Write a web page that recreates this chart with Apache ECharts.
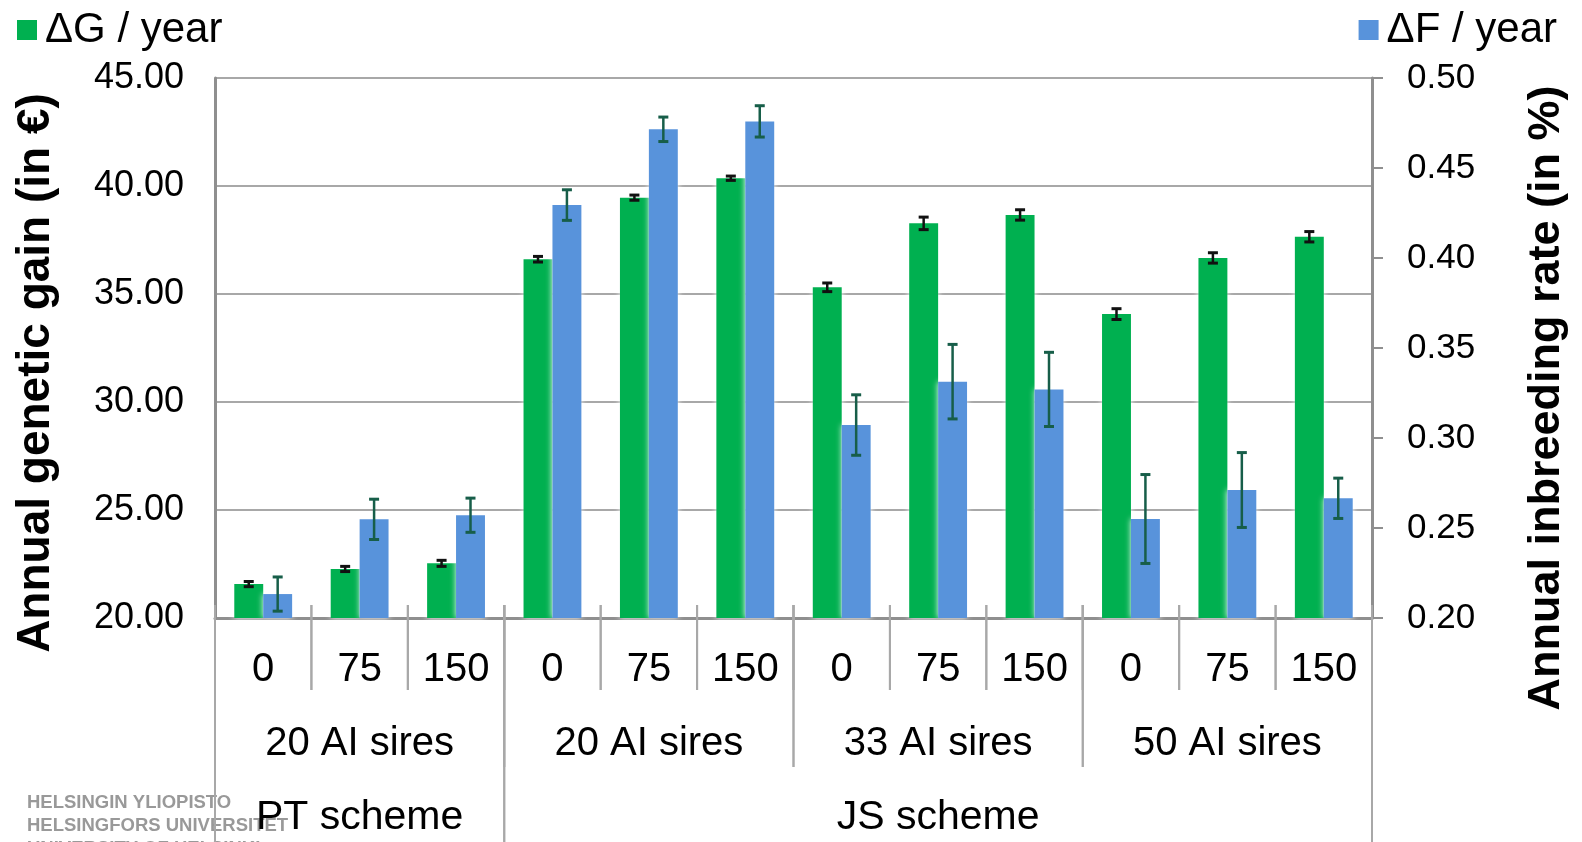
<!DOCTYPE html>
<html>
<head>
<meta charset="utf-8">
<script src="https://cdn.jsdelivr.net/npm/echarts@6/dist/echarts.min.js"></script>
<style>
  html, body { margin: 0; padding: 0; background: #ffffff; }
  #chart { width: 1582px; height: 842px; }
</style>
</head>
<body>
<div id="chart"></div>
<script>
// Genetic gain and inbreeding rate per breeding scheme and number of AI sires
const doseLabels = ['0', '75', '150', '0', '75', '150', '0', '75', '150', '0', '75', '150'];
const gainPerYear = [21.57, 22.27, 22.53, 36.61, 39.46, 40.36, 35.31, 38.27, 38.66, 34.07, 36.67, 37.65];
const gainError = [0.12, 0.12, 0.14, 0.13, 0.12, 0.10, 0.20, 0.29, 0.24, 0.25, 0.24, 0.24];
const inbreedingPerYear = [0.2133, 0.2548, 0.2571, 0.4294, 0.4715, 0.4759, 0.3072, 0.3313, 0.3270, 0.2550, 0.2711, 0.2665];
const inbreedingError = [0.0095, 0.0112, 0.0095, 0.0085, 0.0068, 0.0087, 0.0168, 0.0207, 0.0206, 0.0247, 0.0208, 0.0112];

const sireGroupLabels = ['20 AI sires', '20 AI sires', '33 AI sires', '50 AI sires'];
const sireGroupSpans = [[0, 2], [3, 5], [6, 8], [9, 11]];
const schemeLabels = ['PT scheme', 'JS scheme'];
const schemeSpans = [[0, 2], [3, 11]];

const gainAxisRange = [20, 45, 5];
const rateAxisRange = [0.2, 0.5, 0.05];

const FONT = '"Liberation Sans", Arial, sans-serif';
const GREEN = '#00B050';
const BLUE = '#5893DB';
const AXIS_GRAY = '#8f8f8f';
const GRID_GRAY = '#a8a8a8';

// rows of the hierarchical category axis: [start, baseline, end, level]
const axisRows = [];
const axisRowTexts = [];
doseLabels.forEach((t, i) => { axisRows.push([i, gainAxisRange[0], i, 1]); axisRowTexts.push(t); });
sireGroupSpans.forEach((s, k) => { axisRows.push([s[0], gainAxisRange[0], s[1], 2]); axisRowTexts.push(sireGroupLabels[k]); });
schemeSpans.forEach((s, k) => { axisRows.push([s[0], gainAxisRange[0], s[1], 3]); axisRowTexts.push(schemeLabels[k]); });

const levelDepth = { 1: 72, 2: 149, 3: 240 };
const levelTextOffset = { 1: 52, 2: 126, 3: 200 };
const levelFontSize = { 1: 40, 2: 40, 3: 41 };

function renderAxisRow(params, api) {
  const start = api.value(0);
  const end = api.value(2);
  const level = api.value(3);
  const band = api.size([1, 0])[0];
  const base = api.coord([start, gainAxisRange[0]]);
  const x0 = base[0] - band / 2;
  const x1 = api.coord([end, gainAxisRange[0]])[0] + band / 2;
  const y0 = base[1];
  const depth = levelDepth[level];
  const sep = { stroke: GRID_GRAY, lineWidth: 2 };
  return {
    type: 'group',
    children: [
      { type: 'line', shape: { x1: x0, y1: y0 - 13, x2: x0, y2: y0 + depth }, style: sep },
      { type: 'line', shape: { x1: x1, y1: y0 - 13, x2: x1, y2: y0 + depth }, style: sep },
      {
        type: 'text',
        x: (x0 + x1) / 2,
        y: y0 + levelTextOffset[level],
        style: {
          text: axisRowTexts[params.dataIndex],
          fill: '#000',
          font: levelFontSize[level] + 'px ' + FONT,
          align: 'center', verticalAlign: 'middle',
          textAlign: 'center', textVerticalAlign: 'middle'
        }
      }
    ]
  };
}

function errorBarRenderer(shift, color) {
  return function (params, api) {
    const idx = api.value(0);
    const val = api.value(1);
    const err = api.value(2);
    const band = api.size([1, 0])[0];
    const x = api.coord([idx, val])[0] + shift * band;
    const yTop = api.coord([idx, val + err])[1];
    const yBot = api.coord([idx, val - err])[1];
    const cap = 5;
    const st = { stroke: color, lineWidth: 2.5 };
    const capSt = { stroke: color, lineWidth: 3 };
    return {
      type: 'group',
      children: [
        { type: 'line', shape: { x1: x, y1: yTop, x2: x, y2: yBot }, style: st },
        { type: 'line', shape: { x1: x - cap, y1: yTop, x2: x + cap, y2: yTop }, style: capSt },
        { type: 'line', shape: { x1: x - cap, y1: yBot, x2: x + cap, y2: yBot }, style: capSt }
      ]
    };
  };
}

const chart = echarts.init(document.getElementById('chart'), null, { renderer: 'canvas' });

chart.setOption({
  animation: false,
  textStyle: { fontFamily: FONT },
  legend: [
    {
      data: ['ΔG / year'], left: 12, top: 4, icon: 'rect', itemWidth: 20, itemHeight: 20,
      itemGap: 6, textStyle: { fontSize: 42, color: '#000', fontFamily: FONT, padding: [0, 0, 0, 3] }
    },
    {
      data: ['ΔF / year'], right: 20, top: 4, icon: 'rect', itemWidth: 20, itemHeight: 20,
      itemGap: 6, textStyle: { fontSize: 42, color: '#000', fontFamily: FONT, padding: [0, 0, 0, 3] }
    }
  ],
  grid: { left: 215, right: 210, top: 78, bottom: 224, containLabel: false },
  xAxis: {
    type: 'category',
    data: doseLabels,
    axisLine: { show: true, lineStyle: { color: AXIS_GRAY, width: 3 } },
    axisTick: { show: false },
    axisLabel: { show: false },
    splitLine: { show: false }
  },
  yAxis: [
    {
      type: 'value',
      min: gainAxisRange[0], max: gainAxisRange[1], interval: gainAxisRange[2],
      axisLine: { show: true, lineStyle: { color: AXIS_GRAY, width: 3 } },
      axisTick: { show: false },
      axisLabel: { fontSize: 36, color: '#000', margin: 31, formatter: v => v.toFixed(2) },
      splitLine: { show: true, lineStyle: { color: GRID_GRAY, width: 2 } }
    },
    {
      type: 'value',
      min: rateAxisRange[0], max: rateAxisRange[1], interval: rateAxisRange[2],
      axisLine: { show: true, lineStyle: { color: AXIS_GRAY, width: 3 } },
      axisTick: { show: true, length: 11, lineStyle: { color: AXIS_GRAY, width: 2 } },
      axisLabel: { fontSize: 35, color: '#000', margin: 35, formatter: v => v.toFixed(2) },
      splitLine: { show: false }
    }
  ],
  graphic: [
    {
      type: 'text', x: 36, y: 373, rotation: Math.PI / 2, z: 10,
      style: {
        text: 'Annual genetic gain (in €)', font: 'bold 46px ' + FONT, fill: '#000',
        align: 'center', verticalAlign: 'middle', textAlign: 'center', textVerticalAlign: 'middle'
      }
    },
    {
      type: 'text', x: 1547, y: 398, rotation: Math.PI / 2, z: 10,
      style: {
        text: 'Annual inbreeding rate (in %)', font: 'bold 45px ' + FONT, fill: '#000',
        align: 'center', verticalAlign: 'middle', textAlign: 'center', textVerticalAlign: 'middle'
      }
    },
    {
      type: 'text', left: 27, top: 791, z: 1,
      style: {
        text: 'HELSINGIN YLIOPISTO\nHELSINGFORS UNIVERSITET\nUNIVERSITY OF HELSINKI',
        font: 'bold 18.5px ' + FONT, fill: '#999999', lineHeight: 23
      }
    }
  ],
  series: [
    {
      name: 'ΔG / year', type: 'bar', yAxisIndex: 0,
      data: gainPerYear, barWidth: '30%', barGap: '0%',
      itemStyle: { color: GREEN, shadowColor: 'rgba(255,255,255,0.95)', shadowBlur: 6 },
      z: 2
    },
    {
      name: 'ΔF / year', type: 'bar', yAxisIndex: 1,
      data: inbreedingPerYear, barWidth: '30%', barGap: '0%',
      itemStyle: { color: BLUE, shadowColor: 'rgba(255,255,255,0.95)', shadowBlur: 6 },
      z: 2
    },
    {
      name: 'gainErrors', type: 'custom', yAxisIndex: 0, clip: false, z: 5,
      data: gainPerYear.map((v, i) => [i, v, gainError[i]]),
      encode: { x: 0, y: 1 },
      renderItem: errorBarRenderer(-0.15, '#111111')
    },
    {
      name: 'inbreedingErrors', type: 'custom', yAxisIndex: 1, clip: false, z: 5,
      data: inbreedingPerYear.map((v, i) => [i, v, inbreedingError[i]]),
      encode: { x: 0, y: 1 },
      renderItem: errorBarRenderer(0.15, '#175E49')
    },
    {
      name: 'categoryRows', type: 'custom', yAxisIndex: 0, clip: false, z: 4,
      data: axisRows,
      encode: { x: 0, y: 1 },
      renderItem: renderAxisRow,
      silent: true
    }
  ]
});
</script>
</body>
</html>
